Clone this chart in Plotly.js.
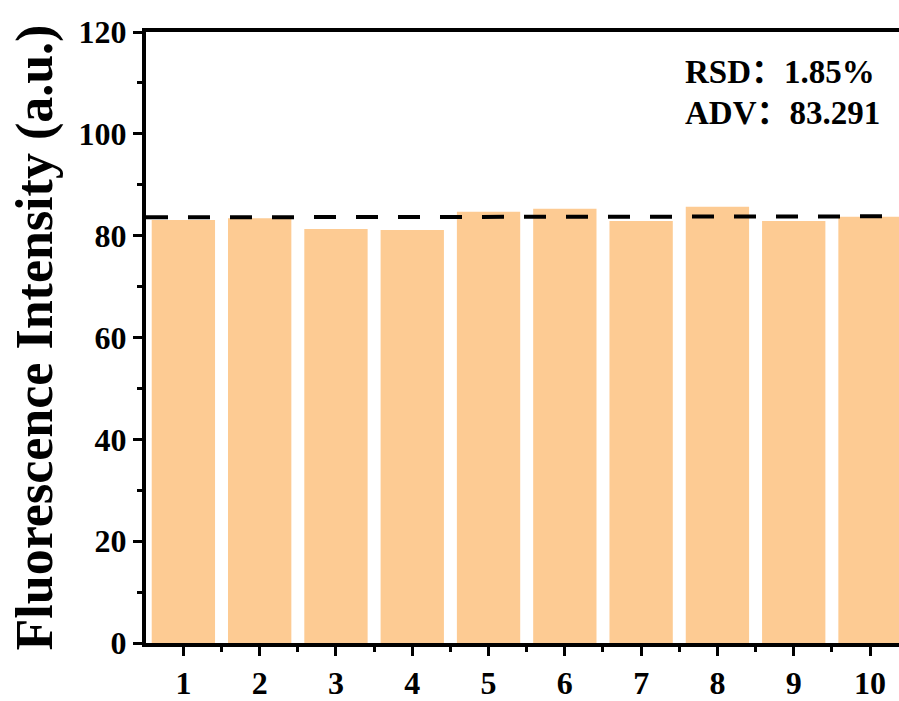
<!DOCTYPE html>
<html>
<head>
<meta charset="utf-8">
<script src="https://cdn.plot.ly/plotly-3.0.1.min.js"></script>
<style>html,body{margin:0;padding:0;background:#fff;}#chart{width:899px;height:701px;}</style>
</head>
<body>
<div id="chart"></div>
<script>
const samples = [1, 2, 3, 4, 5, 6, 7, 8, 9, 10];
const intensity = [83.1, 83.4, 81.3, 81.1, 84.7, 85.3, 82.9, 85.7, 82.9, 83.7];
const refLevel = [83.6, 83.8];
const yTicks = [0, 20, 40, 60, 80, 100, 120];
const notes = ['RSD：1.85%', 'ADV：83.291'];

const font = 'Liberation Serif, "Noto Sans CJK SC", Times New Roman, serif';

const bars = {
  type: 'bar',
  x: samples,
  y: intensity,
  marker: {color: '#FDCB93', line: {width: 0}},
  hoverinfo: 'skip'
};

const layout = {
  width: 899, height: 701,
  margin: {l: 146, r: 0, t: 32, b: 58},
  paper_bgcolor: '#fff', plot_bgcolor: '#fff',
  showlegend: false,
  bargap: 0.17,
  font: {family: font, color: '#000'},
  xaxis: {
    range: [0.51, 10.38],
    tickvals: samples,
    ticktext: samples.map(String),
    tickfont: {family: font, size: 32, weight: 'bold'},
    ticks: 'outside', ticklen: 9, tickwidth: 3, tickcolor: '#000',
    minor: {dtick: 0.5, tick0: 0.5, ticks: 'outside', ticklen: 5, tickwidth: 3, tickcolor: '#000'},
    showline: true, linewidth: 4, linecolor: '#000', mirror: true,
    showgrid: false, zeroline: false
  },
  yaxis: {
    range: [0, 120],
    tickvals: yTicks,
    ticktext: yTicks.map(String),
    tickfont: {family: font, size: 32, weight: 'bold'},
    ticks: 'outside', ticklen: 9, tickwidth: 3, tickcolor: '#000',
    minor: {dtick: 10, ticks: 'outside', ticklen: 5, tickwidth: 3, tickcolor: '#000'},
    showline: true, linewidth: 4, linecolor: '#000', mirror: false,
    showgrid: false, zeroline: false,
    title: {text: 'Fluorescence Intensity (a.u.)', font: {family: font, size: 52, weight: 'bold'}, standoff: 10}
  },
  shapes: [{
    type: 'line', xref: 'paper', yref: 'y',
    x0: 0, x1: 1, y0: refLevel[0], y1: refLevel[1],
    line: {color: '#000', width: 4, dash: '22px,20px'}
  }],
  annotations: [
    {xref: 'paper', yref: 'paper', x: 0.713, y: 0.934, xanchor: 'left', yanchor: 'middle', showarrow: false,
     text: notes[0], font: {family: font, size: 33, weight: 'bold', color: '#000'}},
    {xref: 'paper', yref: 'paper', x: 0.713, y: 0.867, xanchor: 'left', yanchor: 'middle', showarrow: false,
     text: notes[1], font: {family: font, size: 33, weight: 'bold', color: '#000'}}
  ]
};

Plotly.newPlot('chart', [bars], layout, {displayModeBar: false, staticPlot: true});
</script>
</body>
</html>
